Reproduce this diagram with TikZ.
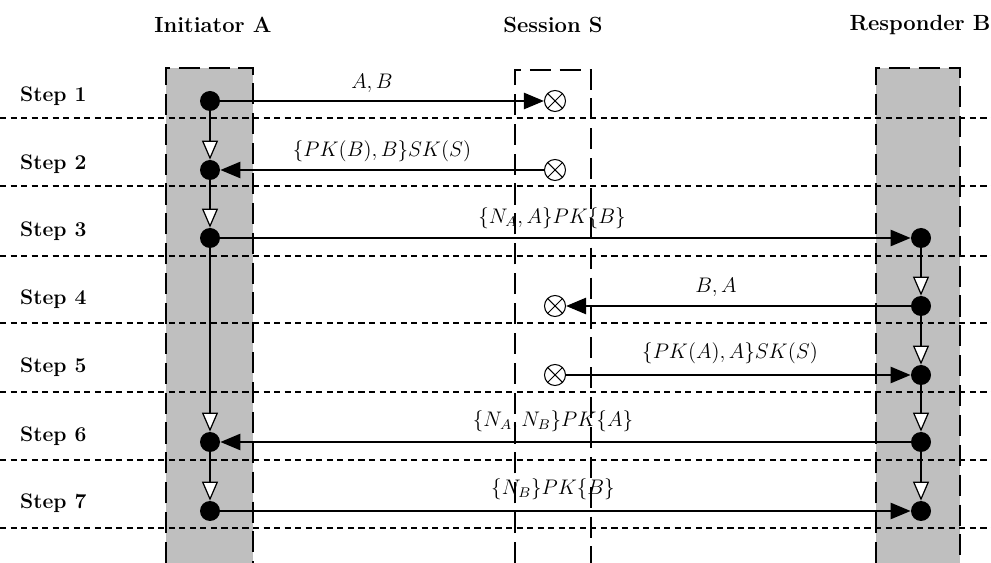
\documentclass[tikz,border=0pt]{standalone}
\usetikzlibrary{arrows.meta}

\begin{document}
\begin{tikzpicture}[
			x=0.02cm, y=-0.02cm,
			party/.style={font=\fontsize{12.5}{15}\selectfont\bfseries},
			steplabel/.style={anchor=west, font=\large\bfseries},
			lane/.style={fill=black!25, draw=none},
			laneedge/.style={dash pattern=on 12pt off 5pt, line width=1pt},
			rowline/.style={dash pattern=on 3.5pt off 2.5pt, line width=0.9pt},
			state/.style={circle, fill=black, inner sep=0pt, minimum size=0.4cm},
			sess/.style={
				circle,
				draw,
				fill=white,
				inner sep=0pt,
				minimum size=0.42cm,
				line width=0.6pt,
				path picture={\draw[line width=0.6pt]
					(path picture bounding box.north west) -- (path picture bounding box.south east)
					(path picture bounding box.north east) -- (path picture bounding box.south west);}
			},
			msg/.style={-{Triangle[length=0.4cm, width=0.32cm]}, line width=1.4pt},
			flow/.style={-{Triangle[length=0.38cm, width=0.32cm, fill=white]}, line width=0.7pt},
			lbl/.style={font=\large}
			]
			
			\useasboundingbox (0,0) rectangle (991,563);
			
			% lanes
			\fill [lane] (166,68) rectangle (253,563);
			\fill [lane] (876,68) rectangle (960,563);
			
			% rows
			\draw [rowline] (0,118) -- (991,118);
			\draw [rowline] (0,186) -- (991,186);
			\draw [rowline] (0,256) -- (991,256);
			\draw [rowline] (0,323) -- (991,323);
			\draw [rowline] (0,392) -- (991,392);
			\draw [rowline] (0,460) -- (991,460);
			\draw [rowline] (0,528) -- (991,528);
			
			\draw [laneedge] (166,563) -- (166,68) -- (253,68) -- (253,563);
			\draw [laneedge] (515,563) -- (515,70) -- (591,70) -- (591,563);
			\draw [laneedge] (876,563) -- (876,68) -- (960,68) -- (960,563);
			
			\node (hA) [party] at (213,25) {Initiator A};
			\node (hS) [party] at (553,25) {Session S};
			\node (hB) [party] at (920,25) {Responder B};
			
			\node (st1) [steplabel] at (14,96) {Step 1};
			\node (st2) [steplabel] at (14,164) {Step 2};
			\node (st3) [steplabel] at (14,231) {Step 3};
			\node (st4) [steplabel] at (14,299) {Step 4};
			\node (st5) [steplabel] at (14,367) {Step 5};
			\node (st6) [steplabel] at (14,436) {Step 6};
			\node (st7) [steplabel] at (14,503) {Step 7};
			
			\node (a1) [state] at (210,101) {};
			\node (a2) [state] at (210,170) {};
			\node (a3) [state] at (210,238) {};
			\node (a6) [state] at (210,442) {};
			\node (a7) [state] at (210,511) {};
			
			\node (b3) [state] at (921,238) {};
			\node (b4) [state] at (921,306) {};
			\node (b5) [state] at (921,375) {};
			\node (b6) [state] at (921,442) {};
			\node (b7) [state] at (921,511) {};
			
			\node (s1) [sess] at (555,101) {};
			\node (s2) [sess] at (555,170) {};
			\node (s4) [sess] at (555,306) {};
			\node (s5) [sess] at (555,375) {};
			
			\draw [flow] (a1) -- (a2);
			\draw [flow] (a2) -- (a3);
			\draw [flow] (a3) -- (a6);
			\draw [flow] (a6) -- (a7);
			\draw [flow] (b3) -- (b4);
			\draw [flow] (b4) -- (b5);
			\draw [flow] (b5) -- (b6);
			\draw [flow] (b6) -- (b7);
			
			\draw [msg] (a1) -- (s1);
			\draw [msg] (s2) -- (a2);
			\draw [msg] (a3) -- (b3);
			\draw [msg] (b4) -- (s4);
			\draw [msg] (s5) -- (b5);
			\draw [msg] (b6) -- (a6);
			\draw [msg] (a7) -- (b7);
			
			\node (m1) [lbl] at (372,83) {$A, B$};
			\node (m2) [lbl] at (382,151) {$\{PK(B), B\}SK(S)$};
			\node (m3) [lbl] at (552,218) {$\{N_A, A\}PK\{B\}$};
			\node (m4) [lbl] at (716,287) {$B, A$};
			\node (m5) [lbl] at (730,353) {$\{PK(A), A\}SK(S)$};
			\node (m6) [lbl] at (553,421) {$\{N_A, N_B\}PK\{A\}$};
			\node (m7) [lbl] at (553,489) {$\{N_B\}PK\{B\}$};
			
		\end{tikzpicture}
\end{document}
